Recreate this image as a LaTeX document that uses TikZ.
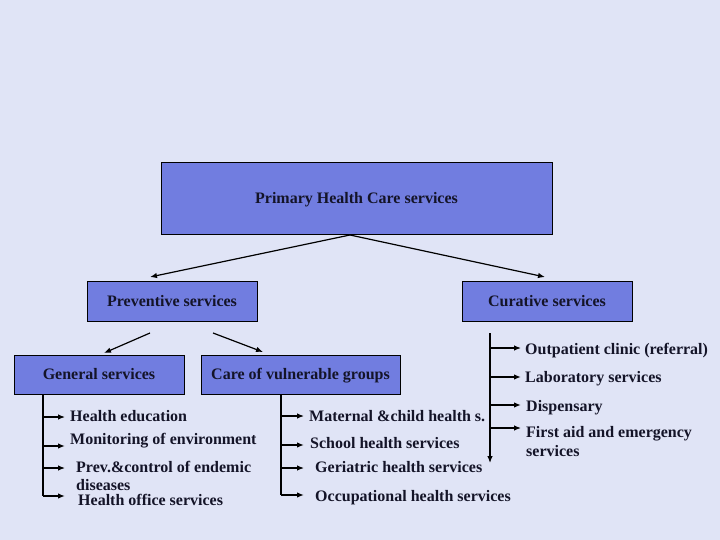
\documentclass[tikz,border=0pt]{standalone}
\usepackage{fontspec}
\setmainfont{Liberation Serif}
\usetikzlibrary{arrows.meta}
\definecolor{bg}{RGB}{224,228,246}
\definecolor{boxfill}{RGB}{113,125,224}
\definecolor{txt}{RGB}{20,20,40}
\tikzset{
  box/.style={draw=black, line width=0.9pt, fill=boxfill, inner sep=0pt, text height=10.5pt, text depth=0pt, font=\fontsize{16}{19}\selectfont\bfseries, text=txt},
  lbl/.style={anchor=west, inner sep=0pt, text height=10.5pt, text depth=0pt, font=\fontsize{16}{19}\selectfont\bfseries, text=txt, align=left},
  arr/.style={-{Latex[length=7pt,width=5.5pt]}, line width=1.2pt},
  thk/.style={line width=2pt},
  ln/.style={line width=1.2pt}
}
\begin{document}
\begin{tikzpicture}[x=1pt,y=-1pt]
\fill[bg] (0,0) rectangle (720,540);
\useasboundingbox (0,0) rectangle (720,540);

\node[box, minimum width=391pt, minimum height=72pt] (prim) at (356.5,198) {Primary Health Care services};
\node[box, minimum width=170pt, minimum height=40pt] (prev) at (172,301) {Preventive services};
\node[box, minimum width=170pt, minimum height=40pt] (cur) at (547,301) {Curative services};
\node[box, minimum width=170pt, minimum height=39pt] (gen) at (99,374.5) {General services};
\node[box, minimum width=199pt, minimum height=39pt] (care) at (300.5,374.5) {Care of vulnerable groups};

% top arrows
\coordinate (apex) at (350,235);
\coordinate (prevtop) at (150,277);
\coordinate (curtop) at (545,277);
\draw[arr] (apex) -- (prevtop);
\draw[arr] (apex) -- (curtop);

% preventive arrows
\coordinate (p1) at (150,333);
\coordinate (p1e) at (104,353);
\coordinate (p2) at (213,333);
\coordinate (p2e) at (263,352);
\draw[arr] (p1) -- (p1e);
\draw[arr] (p2) -- (p2e);

% general services branch
\coordinate (gtop) at (43,394.5);
\coordinate (gbot) at (43,496);
\draw[ln] (gtop) -- (gbot);
\node[lbl] (g1) at (70,416) {Health education};
\node[lbl] (g2) at (70,439) {Monitoring of environment};
\node[lbl] (g3) at (76,467) {Prev.\&control of endemic};
\node[lbl] (g3b) at (76,485) {diseases};
\node[lbl] (g4) at (78,500) {Health office services};
\draw[arr] (43,417) -- (65,417);
\draw[arr,thk] (43,446) -- (65,446);
\draw[arr] (43,468) -- (65,468);
\draw[arr,thk] (43,496) -- (65,496);

% care branch
\coordinate (ctop) at (281,394.5);
\coordinate (cbot) at (281,495);
\draw[ln] (ctop) -- (cbot);
\node[lbl] (c1) at (309,416) {Maternal \&child health s.};
\node[lbl] (c2) at (310,443) {School health services};
\node[lbl] (c3) at (315,467) {Geriatric health services};
\node[lbl] (c4) at (315,496) {Occupational health services};
\draw[arr] (281,416) -- (304,416);
\draw[arr,thk] (281,445) -- (304,445);
\draw[arr] (281,468) -- (304,468);
\draw[arr,thk] (281,495) -- (304,495);

% curative branch
\coordinate (rtop) at (490,333);
\coordinate (rbot) at (490,463);
\draw[arr] (rtop) -- (rbot);
\node[lbl] (r1) at (525,349) {Outpatient clinic (referral)};
\node[lbl] (r2) at (525,377) {Laboratory services};
\node[lbl] (r3) at (526,406) {Dispensary};
\node[lbl] (r4) at (526,432) {First aid and emergency};
\node[lbl] (r4b) at (526,451) {services};
\draw[arr] (490,348) -- (521,348);
\draw[arr,thk] (490,377) -- (521,377);
\draw[arr,thk] (490,405) -- (521,405);
\draw[arr] (490,428) -- (521,428);
\end{tikzpicture}
\end{document}
